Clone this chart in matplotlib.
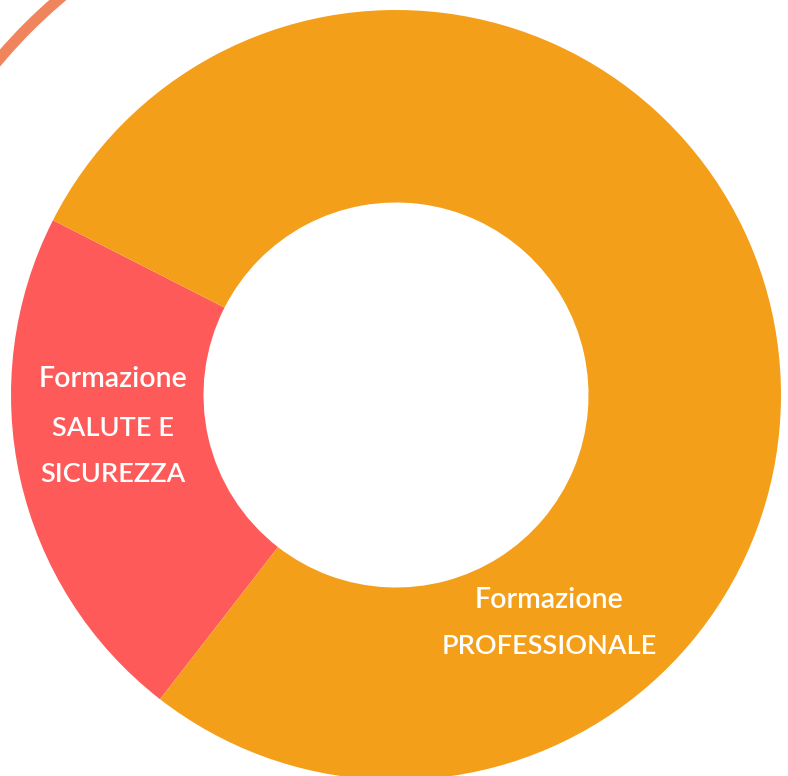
import matplotlib
matplotlib.use("Agg")
import matplotlib.pyplot as plt
from matplotlib.patches import Arc

categories = ["SALUTE E\nSICUREZZA", "PROFESSIONALE"]
prefix = ["Formazione", "Formazione"]
values = [22, 78]
colors = ["#FF5A5A", "#F49F1A"]

W, H = 788, 776
fig = plt.figure(figsize=(W / 100, H / 100), dpi=100)
ax = fig.add_axes([0, 0, 1, 1])

cx, cy = 396, H - 395
R = 385

ax.pie(values, colors=colors, startangle=153, counterclock=True,
       center=(cx, cy), radius=R, frame=True,
       wedgeprops=dict(width=R * 0.5, edgecolor="none"))

# decorative outer arc (top-left only)
ax.add_patch(Arc((cx, cy), 2 * 520, 2 * 520, theta1=118, theta2=152,
                 edgecolor="#F0845C", linewidth=8))

ax.set_xlim(0, W)
ax.set_ylim(0, H)
ax.set_aspect("equal")
ax.axis("off")

font = ["Lato", "DejaVu Sans"]
tk = dict(color="white", ha="center", va="center", family=font, fontweight="semibold")

ax.text(113, H - 379, prefix[0], fontsize=20.5, **tk)
for i, line in enumerate(categories[0].split("\n")):
    ax.text(113, H - 428 - 47 * i, line, fontsize=19.5, **tk)
ax.text(549, H - 600, prefix[1], fontsize=20.5, **tk)
ax.text(549, H - 647, categories[1], fontsize=19.5, **tk)

fig.savefig("out.png", dpi=100)
